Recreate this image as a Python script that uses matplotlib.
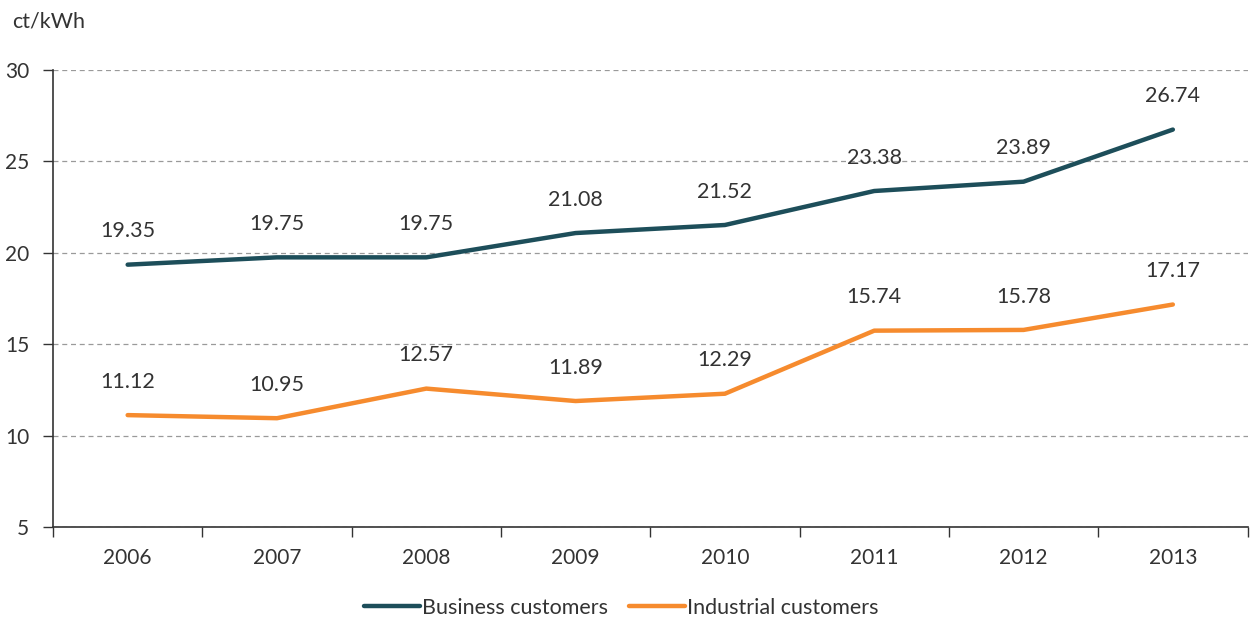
import matplotlib.pyplot as plt
from matplotlib.ticker import FixedLocator, NullFormatter

plt.rcParams['font.family'] = ['Lato', 'DejaVu Sans']

years = ["2006", "2007", "2008", "2009", "2010", "2011", "2012", "2013"]
business = [19.35, 19.75, 19.75, 21.08, 21.52, 23.38, 23.89, 26.74]
industrial = [11.12, 10.95, 12.57, 11.89, 12.29, 15.74, 15.78, 17.17]

fig = plt.figure(figsize=(12.5, 6.21), dpi=100)
ax = fig.add_axes([0.0424, 0.1514, 0.9556, 0.7359])

x = list(range(len(years)))
ax.plot(x, business, color="#1d4e5a", lw=3.2, label="Business customers",
        solid_joinstyle="round", solid_capstyle="round", zorder=3)
ax.plot(x, industrial, color="#f68b2e", lw=3.2, label="Industrial customers",
        solid_joinstyle="round", solid_capstyle="round", zorder=3)

# Wertebeschriftungen über den Punkten
for xi, v in zip(x, business):
    ax.annotate(f"{v:.2f}", (xi, v), xytext=(0, 24), textcoords="offset points",
                ha="center", va="center", fontsize=15.5, color="#333333")
for xi, v in zip(x, industrial):
    ax.annotate(f"{v:.2f}", (xi, v), xytext=(0, 24), textcoords="offset points",
                ha="center", va="center", fontsize=15.5, color="#333333")

ax.set_xlim(-0.5, len(years) - 0.5)
ax.set_ylim(5, 30)
ax.set_yticks([5, 10, 15, 20, 25, 30])

# Striche an den Kategoriegrenzen, Beschriftung in der Mitte
ax.xaxis.set_major_locator(FixedLocator([i - 0.5 for i in range(len(years) + 1)]))
ax.xaxis.set_major_formatter(NullFormatter())
ax.xaxis.set_minor_locator(FixedLocator(x))
ax.set_xticklabels(years, minor=True)
ax.tick_params(axis="x", which="major", length=7, width=1, color="#333333", direction="out")
ax.tick_params(axis="x", which="minor", length=0, pad=15, labelsize=15, labelcolor="#333333")
ax.tick_params(axis="y", length=7, width=1, color="#333333", pad=10, labelsize=15,
               labelcolor="#333333")

ax.grid(axis="y", linestyle=(0, (4, 3)), color="#9a9a9a", lw=0.9)
ax.set_axisbelow(True)
for s in ["top", "right"]:
    ax.spines[s].set_visible(False)
for s in ["left", "bottom"]:
    ax.spines[s].set_color("#333333")
    ax.spines[s].set_linewidth(1.2)

fig.text(0.0096, 0.965, "ct/kWh", fontsize=15.5, color="#333333", va="center")

fig.legend(loc="center", bbox_to_anchor=(0.497, 0.021), ncol=2, frameon=False,
           fontsize=15.5, handlelength=2.6, handletextpad=0.1, columnspacing=1.0,
           labelcolor="#333333")

fig.savefig("out.png", dpi=100, facecolor="white")
